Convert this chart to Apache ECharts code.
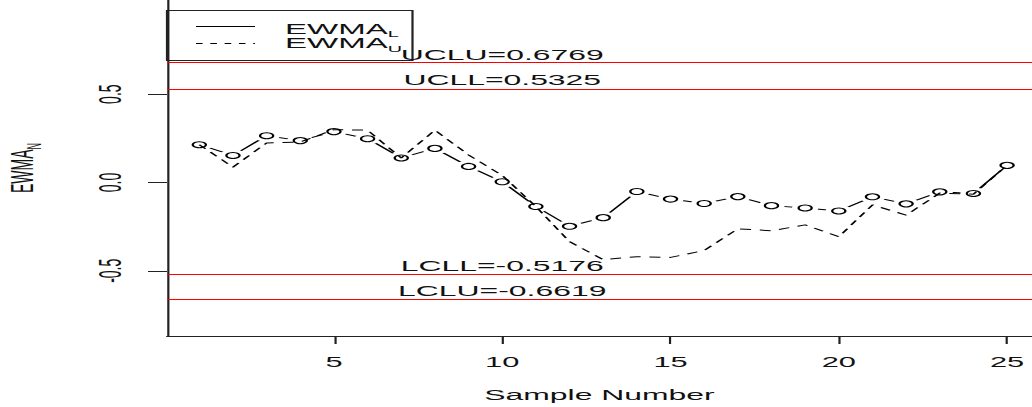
<!DOCTYPE html>
<html>
<head>
<meta charset="utf-8">
<script src="https://cdn.jsdelivr.net/npm/echarts@6/dist/echarts.min.js"></script>
<style>
html, body { margin: 0; padding: 0; background: #fff; overflow: hidden; width: 1032px; height: 407px; }
#chart { width: 469px; height: 407px; transform: scaleX(2.2004264); transform-origin: 0 0; }
</style>
</head>
<body>
<div id="chart"></div>
<script>
// ---- data ----
const samples = [1, 2, 3, 4, 5, 6, 7, 8, 9, 10, 11, 12, 13, 14, 15, 16, 17, 18, 19, 20, 21, 22, 23, 24, 25];
const ewmaL = [0.214, 0.153, 0.265, 0.237, 0.288, 0.248, 0.139, 0.193, 0.091, 0.004, -0.136, -0.248, -0.199, -0.051, -0.094, -0.119, -0.080, -0.131, -0.144, -0.161, -0.081, -0.121, -0.053, -0.062, 0.097];
const ewmaU = [0.214, 0.087, 0.224, 0.229, 0.299, 0.296, 0.139, 0.296, 0.156, 0.040, -0.136, -0.335, -0.437, -0.420, -0.424, -0.385, -0.262, -0.273, -0.240, -0.307, -0.127, -0.185, -0.060, -0.066, 0.097];
const xTicks = [5, 10, 15, 20, 25];
const yTicks = [-0.5, 0, 0.5];
const limitNames = ['UCLU', 'UCLL', 'LCLL', 'LCLU'];
const limitValues = [0.6769, 0.5325, -0.5176, -0.6619];
const limitLabelX = 10;
const legendMain = ['EWMA', 'EWMA'];
const legendSub = ['L', 'U'];
const yName = ['EWMA', 'N'];
const xName = 'Sample Number';

// ---- layout ----
const S = 1032 / 469;          // horizontal stretch of the reference
const px = v => v / S;         // reference x-pixels -> chart pixels
const FF = 'Liberation Sans, Arial, Helvetica, sans-serif';
const INK = '#111';
const RED = '#ff0000';

const chart = echarts.init(document.getElementById('chart'), null, { renderer: 'svg' });

const lPts = samples.map((x, i) => [x, ewmaL[i]]);
const uPts = samples.map((x, i) => [x, ewmaU[i]]);

const richSub = (main, sub) => ({
  m: { fontSize: main, fontFamily: FF, color: INK, fill: INK, lineHeight: 20 },
  s: { fontSize: sub, fontFamily: FF, color: INK, fill: INK, lineHeight: 20, verticalAlign: 'bottom' }
});

const option = {
  animation: false,
  backgroundColor: '#fff',
  grid: { left: px(167), right: 0, top: 0, bottom: 71, containLabel: false, outerBoundsMode: 'none' },
  xAxis: {
    type: 'value', min: 0.04, max: 25.74,
    axisLine: { show: true, onZero: false, lineStyle: { color: '#222', width: 1 } },
    axisTick: { show: true, inside: false, length: 8, customValues: xTicks, lineStyle: { color: '#222', width: 1 } },
    axisLabel: { show: true, customValues: xTicks, margin: 19, fontSize: 14, fontFamily: FF, color: INK },
    splitLine: { show: false },
    name: xName, nameLocation: 'middle', nameGap: 52,
    nameTextStyle: { fontSize: 14.5, fontFamily: FF, color: INK }
  },
  yAxis: {
    type: 'value', min: -0.869, max: 1.033,
    axisLine: { show: true, onZero: false, lineStyle: { color: '#222', width: 1 } },
    axisTick: { show: true, inside: false, length: px(19), customValues: yTicks, lineStyle: { color: '#222', width: 1 } },
    axisLabel: { show: true, customValues: yTicks, rotate: 90, margin: 19, fontSize: 14, fontFamily: FF, color: INK,
                 formatter: v => v.toFixed(1) },
    splitLine: { show: false },
    name: '{m|' + yName[0] + '}{s|' + yName[1] + '}', nameLocation: 'middle', nameGap: 56, nameRotate: 90,
    nameTextStyle: { rich: richSub(14, 9) }
  },
  series: [
    { // control limits + their labels
      type: 'scatter', silent: true, symbolSize: 1, z: 2,
      itemStyle: { color: RED, opacity: 0 },
      data: limitValues.map((v, i) => ({ value: [limitLabelX, v], name: limitNames[i] })),
      label: { show: true, position: 'top', distance: 0, fontSize: 14.5, fontFamily: FF, color: INK, opacity: 1,
               formatter: p => p.name + '=' + p.value[1] },
      markLine: {
        silent: true, symbol: ['none', 'none'], label: { show: false },
        lineStyle: { color: RED, width: 1.2, type: 'solid', opacity: 1 },
        emphasis: { disabled: true },
        data: limitValues.map(v => ({ yAxis: v, lineStyle: { color: RED, width: 1.2, type: 'solid', opacity: 1 } }))
      }
    },
    { // EWMA_L connecting line
      type: 'line', data: lPts, symbol: 'none', silent: true, z: 3,
      lineStyle: { color: '#000', width: 1, type: 'solid' }
    },
    { // gap around the points (R type = "b")
      type: 'scatter', data: lPts, symbol: 'circle', symbolSize: 12, silent: true, z: 4,
      itemStyle: { color: '#fff', borderWidth: 0, opacity: 1 }
    },
    { // open circles
      type: 'scatter', data: lPts, symbol: 'circle', symbolSize: 6, silent: true, z: 5,
      itemStyle: { color: '#fff', borderColor: '#000', borderWidth: 1, opacity: 1 }
    },
    { // EWMA_U dashed
      type: 'line', data: uPts, symbol: 'none', silent: true, z: 6,
      lineStyle: { color: '#000', width: 1, type: [5, 4] }
    }
  ],
  graphic: [
    { type: 'rect', silent: true, z: 1,
      shape: { x: px(167), y: 10.5, width: px(412.5 - 167), height: 50 },
      style: { fill: 'none', stroke: '#222', lineWidth: 1 } },
    { type: 'line', silent: true,
      shape: { x1: px(196), y1: 26.5, x2: px(255), y2: 26.5 },
      style: { stroke: '#000', lineWidth: 1 } },
    { type: 'line', silent: true,
      shape: { x1: px(196), y1: 43.5, x2: px(255), y2: 43.5 },
      style: { stroke: '#000', lineWidth: 1, lineDash: [3, 3.5] } },
    { type: 'text', silent: true, x: px(285), y: 28.5,
      style: { text: '{m|' + legendMain[0] + '}{s|' + legendSub[0] + '}', rich: richSub(15, 9),
               align: 'left', verticalAlign: 'middle' } },
    { type: 'text', silent: true, x: px(285), y: 43.2,
      style: { text: '{m|' + legendMain[1] + '}{s|' + legendSub[1] + '}', rich: richSub(15, 9),
               align: 'left', verticalAlign: 'middle' } }
  ]
};

chart.setOption(option);
</script>
</body>
</html>
